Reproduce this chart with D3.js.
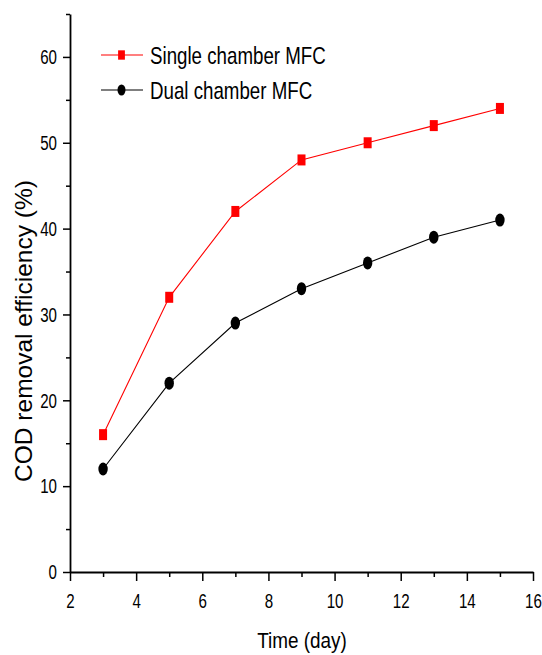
<!DOCTYPE html>
<html>
<head>
<meta charset="utf-8">
<script src="https://cdn.jsdelivr.net/npm/d3@7"></script>
<style>
  body { margin: 0; background: #fff; }
  text { font-family: "Liberation Sans", Arial, sans-serif; fill: #000; }
</style>
</head>
<body>
<div id="chart"></div>
<script>
const days = [3, 5, 7, 9, 11, 13, 15];
const singleChamber = [16, 32, 42, 48, 50, 52, 54];
const dualChamber = [12, 22, 29, 33, 36, 39, 41];
const xTicks = [2, 4, 6, 8, 10, 12, 14, 16];
const yTicks = [0, 10, 20, 30, 40, 50, 60];

const width = 542;
const height = 655;
const margin = {left: 70, right: 9, top: 14, bottom: 83};

// the original uses a narrow face; squeeze regular text horizontally
const narrow = 0.72;

const x = d3.scaleLinear()
    .domain([2, 16])
    .range([margin.left, width - margin.right]);

const y = d3.scaleLinear()
    .domain([0, 65])
    .range([height - margin.bottom, margin.top]);

const svg = d3.select('#chart')
  .append('svg')
    .attr('width', width)
    .attr('height', height);

// minor ticks
const xAxisY = y(0);
svg.append('g')
    .attr('transform', 'translate(0,' + xAxisY + ')')
    .call(d3.axisBottom(x).tickValues(d3.range(3, 16, 2)).tickSize(5).tickFormat(''))
    .call(g => g.select('.domain').remove())
    .selectAll('line').attr('stroke-width', 1.5);

svg.append('g')
    .attr('transform', 'translate(' + margin.left + ',0)')
    .call(d3.axisLeft(y).tickValues(d3.range(5, 66, 10)).tickSize(4).tickFormat(''))
    .call(g => g.select('.domain').remove())
    .selectAll('line').attr('stroke-width', 1.5);

// major axes
const xAxis = svg.append('g')
    .attr('transform', 'translate(0,' + xAxisY + ')')
    .call(d3.axisBottom(x).tickValues(xTicks).tickSize(9).tickSizeOuter(0).tickPadding(12));

const yAxis = svg.append('g')
    .attr('transform', 'translate(' + margin.left + ',0)')
    .call(d3.axisLeft(y).tickValues(yTicks).tickSize(7).tickSizeOuter(0).tickPadding(6));

[xAxis, yAxis].forEach(function(a) {
  a.select('.domain').attr('stroke-width', 1.8);
  a.selectAll('.tick line').attr('stroke-width', 1.5);
  a.selectAll('.tick text')
      .attr('font-size', 21)
      .attr('font-family', null)
      .attr('fill', '#000')
      .each(function() {
        const t = d3.select(this);
        const tx = +t.attr('x') || 0;
        t.attr('x', tx / narrow)
            .attr('transform', 'scale(' + narrow + ',1)');
      });
});

// series
const series = [
  {name: 'Single chamber MFC', values: singleChamber, color: '#ff0000', shape: 'square'},
  {name: 'Dual chamber MFC', values: dualChamber, color: '#000000', shape: 'circle'},
];

const line = d3.line()
    .x(function(d) { return x(d[0]); })
    .y(function(d) { return y(d[1]); });

function drawMarker(g, shape, color, cx, cy, k) {
  if (shape === 'square') {
    g.append('rect')
        .attr('x', cx - 4 * k)
        .attr('y', cy - 5.5 * k)
        .attr('width', 8 * k)
        .attr('height', 11 * k)
        .attr('fill', color);
  } else {
    g.append('ellipse')
        .attr('cx', cx)
        .attr('cy', cy)
        .attr('rx', 4.7 * k)
        .attr('ry', 6.5 * k)
        .attr('fill', color);
  }
}

series.forEach(function(s) {
  const pts = days.map(function(d, i) { return [d, s.values[i]]; });
  svg.append('path')
      .datum(pts)
      .attr('d', line)
      .attr('fill', 'none')
      .attr('stroke', s.color)
      .attr('stroke-width', 1.1);
  const g = svg.append('g');
  pts.forEach(function(p) {
    drawMarker(g, s.shape, s.color, x(p[0]), y(p[1]), 1);
  });
});

// legend
const legend = svg.append('g');
series.forEach(function(s, i) {
  const ly = 55 + i * 35;
  legend.append('line')
      .attr('x1', 101)
      .attr('x2', 143)
      .attr('y1', ly)
      .attr('y2', ly)
      .attr('stroke', s.color)
      .attr('stroke-width', 1.1);
  drawMarker(legend, s.shape, s.color, 121.5, ly, 0.85);
  legend.append('text')
      .attr('transform', 'translate(150,' + (ly + 9) + ') scale(0.78,1)')
      .attr('font-size', 24)
      .text(s.name);
});

// axis titles
svg.append('text')
    .attr('transform', 'translate(32,331) rotate(-90)')
    .attr('text-anchor', 'middle')
    .attr('font-size', 24.5)
    .text('COD removal efficiency (%)');

svg.append('text')
    .attr('transform', 'translate(302,648) scale(0.86,1)')
    .attr('text-anchor', 'middle')
    .attr('font-size', 22)
    .text('Time (day)');
</script>
</body>
</html>
